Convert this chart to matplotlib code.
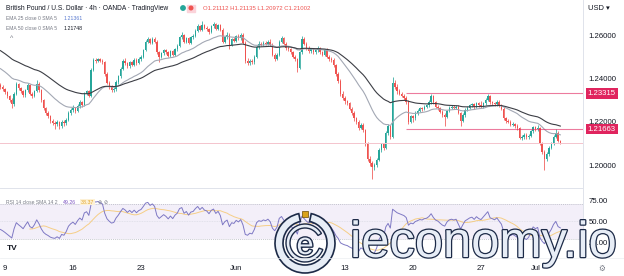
import numpy as np
import pandas as pd
import matplotlib
matplotlib.use("Agg")
import matplotlib.pyplot as plt
from matplotlib.patches import Wedge, Rectangle, Circle
import matplotlib.patheffects as pe

# GBP/USD 4h bars, one row per trading day (6 bars); first row = last 2 bars of May 6
close_rows = [
    [1.2362, 1.2350],
    [1.2335, 1.2318, 1.2300, 1.2280, 1.2330, 1.2372],   # May 9
    [1.2355, 1.2340, 1.2322, 1.2345, 1.2368, 1.2330],
    [1.2318, 1.2340, 1.2375, 1.2345, 1.2300, 1.2262],
    [1.2240, 1.2225, 1.2205, 1.2195, 1.2190, 1.2198],
    [1.2180, 1.2200, 1.2192, 1.2210, 1.2240, 1.2255],
    [1.2265, 1.2250, 1.2272, 1.2290, 1.2278, 1.2330],   # May 16
    [1.2340, 1.2320, 1.2440, 1.2485, 1.2480, 1.2488],
    [1.2482, 1.2475, 1.2420, 1.2380, 1.2360, 1.2345],
    [1.2350, 1.2385, 1.2410, 1.2445, 1.2480, 1.2470],
    [1.2455, 1.2475, 1.2462, 1.2485, 1.2470, 1.2490],
    [1.2500, 1.2530, 1.2570, 1.2580, 1.2565, 1.2582],   # May 23
    [1.2570, 1.2520, 1.2500, 1.2515, 1.2530, 1.2520],
    [1.2505, 1.2525, 1.2510, 1.2535, 1.2550, 1.2590],
    [1.2600, 1.2570, 1.2585, 1.2565, 1.2590, 1.2595],
    [1.2620, 1.2640, 1.2625, 1.2645, 1.2632, 1.2628],
    [1.2615, 1.2640, 1.2650, 1.2630, 1.2645, 1.2625],   # May 30
    [1.2570, 1.2590, 1.2600, 1.2555, 1.2580, 1.2575],
    [1.2595, 1.2585, 1.2600, 1.2565, 1.2480, 1.2470],
    [1.2482, 1.2475, 1.2500, 1.2545, 1.2560, 1.2555],
    [1.2565, 1.2560, 1.2570, 1.2555, 1.2510, 1.2490],
    [1.2510, 1.2570, 1.2585, 1.2560, 1.2540, 1.2535],   # Jun 6
    [1.2520, 1.2500, 1.2490, 1.2450, 1.2520, 1.2580],
    [1.2560, 1.2540, 1.2525, 1.2535, 1.2520, 1.2530],
    [1.2540, 1.2520, 1.2510, 1.2530, 1.2500, 1.2490],
    [1.2485, 1.2460, 1.2420, 1.2390, 1.2330, 1.2310],
    [1.2295, 1.2285, 1.2260, 1.2240, 1.2215, 1.2200],   # Jun 13
    [1.2170, 1.2185, 1.2160, 1.2100, 1.2030, 1.2010],
    [1.1990, 1.2000, 1.2025, 1.2070, 1.2095, 1.2080],
    [1.2150, 1.2180, 1.2130, 1.2380, 1.2360, 1.2340],
    [1.2330, 1.2320, 1.2310, 1.2290, 1.2200, 1.2225],
    [1.2215, 1.2240, 1.2250, 1.2262, 1.2258, 1.2270],   # Jun 20
    [1.2275, 1.2290, 1.2318, 1.2290, 1.2270, 1.2262],
    [1.2245, 1.2230, 1.2222, 1.2250, 1.2265, 1.2270],
    [1.2265, 1.2270, 1.2240, 1.2205, 1.2230, 1.2255],
    [1.2265, 1.2275, 1.2280, 1.2268, 1.2285, 1.2275],
    [1.2270, 1.2285, 1.2300, 1.2318, 1.2290, 1.2285],   # Jun 27
    [1.2280, 1.2290, 1.2275, 1.2260, 1.2215, 1.2205],
    [1.2200, 1.2185, 1.2190, 1.2180, 1.2170, 1.2125],
    [1.2130, 1.2140, 1.2128, 1.2135, 1.2155, 1.2175],
    [1.2165, 1.2170, 1.2100, 1.2060, 1.2030, 1.2050],
    [1.2080, 1.2100, 1.2130, 1.2150, 1.21112, 1.21002],  # Jul 4
]
high_rows = [
    [1.2378, 1.2368],
    [1.2358, 1.2342, 1.2325, 1.2308, 1.2338, 1.2385],
    [1.2380, 1.2362, 1.2348, 1.2352, 1.2378, 1.2374],
    [1.2336, 1.2348, 1.2392, 1.2382, 1.2352, 1.2306],
    [1.2270, 1.2248, 1.2232, 1.2212, 1.2202, 1.2206],
    [1.2205, 1.2208, 1.2210, 1.2218, 1.2250, 1.2264],
    [1.2275, 1.2270, 1.2280, 1.2298, 1.2296, 1.2338],
    [1.2348, 1.2345, 1.2448, 1.2495, 1.2492, 1.2496],
    [1.2496, 1.2490, 1.2482, 1.2428, 1.2388, 1.2368],
    [1.2360, 1.2392, 1.2418, 1.2452, 1.2490, 1.2492],
    [1.2478, 1.2482, 1.2482, 1.2492, 1.2492, 1.2498],
    [1.2508, 1.2538, 1.2578, 1.2592, 1.2588, 1.2590],
    [1.2590, 1.2576, 1.2528, 1.2522, 1.2538, 1.2536],
    [1.2528, 1.2532, 1.2530, 1.2542, 1.2558, 1.2598],
    [1.2612, 1.2606, 1.2592, 1.2590, 1.2598, 1.2605],
    [1.2628, 1.2652, 1.2648, 1.2666, 1.2652, 1.2640],
    [1.2635, 1.2648, 1.2660, 1.2656, 1.2652, 1.2650],
    [1.2632, 1.2598, 1.2612, 1.2608, 1.2588, 1.2590],
    [1.2602, 1.2604, 1.2608, 1.2610, 1.2572, 1.2492],
    [1.2490, 1.2490, 1.2508, 1.2552, 1.2572, 1.2568],
    [1.2575, 1.2572, 1.2578, 1.2580, 1.2562, 1.2518],
    [1.2518, 1.2578, 1.2598, 1.2592, 1.2568, 1.2548],
    [1.2542, 1.2528, 1.2508, 1.2496, 1.2528, 1.2598],
    [1.2592, 1.2568, 1.2548, 1.2542, 1.2542, 1.2538],
    [1.2550, 1.2546, 1.2528, 1.2538, 1.2540, 1.2508],
    [1.2498, 1.2492, 1.2466, 1.2428, 1.2396, 1.2340],
    [1.2318, 1.2302, 1.2292, 1.2268, 1.2248, 1.2222],
    [1.2206, 1.2192, 1.2194, 1.2166, 1.2108, 1.2040],
    [1.2018, 1.2010, 1.2032, 1.2078, 1.2102, 1.2100],
    [1.2158, 1.2188, 1.2186, 1.2406, 1.2392, 1.2372],
    [1.2350, 1.2338, 1.2328, 1.2318, 1.2298, 1.2232],
    [1.2232, 1.2248, 1.2258, 1.2270, 1.2268, 1.2278],
    [1.2282, 1.2298, 1.2328, 1.2324, 1.2296, 1.2278],
    [1.2270, 1.2252, 1.2238, 1.2256, 1.2272, 1.2278],
    [1.2278, 1.2276, 1.2276, 1.2246, 1.2238, 1.2262],
    [1.2272, 1.2282, 1.2288, 1.2286, 1.2292, 1.2292],
    [1.2296, 1.2292, 1.2308, 1.2330, 1.2324, 1.2296],
    [1.2292, 1.2298, 1.2298, 1.2282, 1.2266, 1.2222],
    [1.2212, 1.2206, 1.2198, 1.2196, 1.2188, 1.2176],
    [1.2138, 1.2148, 1.2146, 1.2142, 1.2162, 1.2182],
    [1.2182, 1.2186, 1.2176, 1.2108, 1.2068, 1.2058],
    [1.2088, 1.2108, 1.2138, 1.2165, 1.2158, 1.21135],
]
low_rows = [
    [1.2352, 1.2340],
    [1.2326, 1.2308, 1.2290, 1.2262, 1.2272, 1.2322],
    [1.2348, 1.2332, 1.2312, 1.2315, 1.2338, 1.2322],
    [1.2310, 1.2312, 1.2335, 1.2338, 1.2292, 1.2255],
    [1.2232, 1.2215, 1.2196, 1.2185, 1.2168, 1.2180],
    [1.2165, 1.2172, 1.2182, 1.2185, 1.2202, 1.2232],
    [1.2245, 1.2242, 1.2244, 1.2265, 1.2270, 1.2272],
    [1.2322, 1.2312, 1.2315, 1.2432, 1.2472, 1.2474],
    [1.2474, 1.2468, 1.2412, 1.2372, 1.2350, 1.2335],
    [1.2338, 1.2342, 1.2376, 1.2402, 1.2438, 1.2462],
    [1.2448, 1.2450, 1.2455, 1.2455, 1.2462, 1.2465],
    [1.2482, 1.2495, 1.2525, 1.2562, 1.2558, 1.2560],
    [1.2562, 1.2512, 1.2475, 1.2492, 1.2508, 1.2512],
    [1.2498, 1.2500, 1.2502, 1.2505, 1.2528, 1.2545],
    [1.2582, 1.2565, 1.2562, 1.2558, 1.2560, 1.2582],
    [1.2590, 1.2612, 1.2618, 1.2620, 1.2626, 1.2620],
    [1.2606, 1.2610, 1.2632, 1.2622, 1.2625, 1.2618],
    [1.2562, 1.2565, 1.2582, 1.2535, 1.2548, 1.2566],
    [1.2568, 1.2578, 1.2578, 1.2560, 1.2472, 1.2460],
    [1.2462, 1.2468, 1.2468, 1.2494, 1.2538, 1.2548],
    [1.2548, 1.2552, 1.2552, 1.2548, 1.2502, 1.2482],
    [1.2484, 1.2505, 1.2562, 1.2552, 1.2532, 1.2526],
    [1.2512, 1.2492, 1.2480, 1.2428, 1.2442, 1.2512],
    [1.2552, 1.2532, 1.2515, 1.2518, 1.2512, 1.2512],
    [1.2522, 1.2512, 1.2502, 1.2502, 1.2492, 1.2480],
    [1.2476, 1.2452, 1.2412, 1.2380, 1.2320, 1.2300],
    [1.2282, 1.2275, 1.2252, 1.2230, 1.2205, 1.2190],
    [1.2162, 1.2165, 1.2152, 1.2090, 1.2018, 1.1995],
    [1.1936, 1.1978, 1.1992, 1.2018, 1.2060, 1.2070],
    [1.2074, 1.2140, 1.2122, 1.2124, 1.2350, 1.2330],
    [1.2322, 1.2312, 1.2300, 1.2282, 1.2190, 1.2195],
    [1.2198, 1.2210, 1.2232, 1.2244, 1.2250, 1.2252],
    [1.2262, 1.2268, 1.2284, 1.2284, 1.2262, 1.2254],
    [1.2238, 1.2222, 1.2178, 1.2215, 1.2244, 1.2258],
    [1.2258, 1.2258, 1.2234, 1.2180, 1.2198, 1.2222],
    [1.2248, 1.2258, 1.2268, 1.2260, 1.2262, 1.2268],
    [1.2262, 1.2264, 1.2278, 1.2294, 1.2284, 1.2278],
    [1.2274, 1.2274, 1.2268, 1.2252, 1.2208, 1.2196],
    [1.2192, 1.2178, 1.2178, 1.2172, 1.2162, 1.2118],
    [1.2114, 1.2122, 1.2120, 1.2120, 1.2128, 1.2150],
    [1.2158, 1.2158, 1.2092, 1.2052, 1.1978, 1.2020],
    [1.2042, 1.2072, 1.2094, 1.2124, 1.2105, 1.20972],
]
first_open = 1.2370

# indicator starting values read at the left edge
ema25_seed = 1.2452
ema50_seed = 1.2535
rsi_gain_seed = 0.0010
rsi_loss_seed = 0.0014

# values printed in the legends
ema25_label = "1.21361"
ema50_label = "1.21748"
rsi_label = "49.26"
ohlc_label = "O1.21112 H1.21135 L1.20972 C1.21002"

day_bars = [0, 30, 60, 102, 150, 180, 210, 234]
day_labels = ["9", "16", "23", "Jun", "13", "20", "27", "Jul"]
price_ticks = [1.20, 1.22, 1.24, 1.26]
rsi_ticks = [25, 50, 75]

level_hi = 1.23315
level_lo = 1.21663
level_start = 177
last_close = 1.21002

closes = np.array(sum(close_rows, []))
highs = np.array(sum(high_rows, []))
lows = np.array(sum(low_rows, []))
opens = np.concatenate([[first_open], closes[:-1]])
x = np.arange(len(closes)) - 2

ema25 = pd.Series(np.r_[ema25_seed, closes]).ewm(span=25, adjust=False).mean().values[1:]
ema50 = pd.Series(np.r_[ema50_seed, closes]).ewm(span=50, adjust=False).mean().values[1:]

delta = closes - opens
gain = pd.Series(np.r_[rsi_gain_seed, np.clip(delta, 0, None)]).ewm(alpha=1/14, adjust=False).mean().values[1:]
loss = pd.Series(np.r_[rsi_loss_seed, np.clip(-delta, 0, None)]).ewm(alpha=1/14, adjust=False).mean().values[1:]
rsi = 100 - 100 / (1 + gain / loss)
rsi_sma = pd.Series(rsi).rolling(14).mean().values

UP = "#26a69a"
DN = "#ef5350"
TXT = "#131722"
GREY = "#787b86"
W, H = 624, 276

plt.rcParams["font.family"] = ["Liberation Sans", "DejaVu Sans"]
fig = plt.figure(figsize=(W / 100, H / 100), dpi=100)
ax = fig.add_axes([0, (H - 188) / H, 583 / W, 188 / H])
ax_rsi = fig.add_axes([0, (H - 257) / H, 583 / W, 69 / H])
xlim = (-2.2, 255)

# candles
cols = np.where(closes >= opens, UP, DN)
ax.vlines(x, lows, highs, colors=cols, lw=0.55)
body_lo = np.minimum(opens, closes)
body_h = np.maximum(np.abs(closes - opens), 0.00012)
ax.bar(x, body_h, bottom=body_lo, width=0.62, color=cols, lw=0)

ax.plot(x, ema25, color="#a3a8b4", lw=0.8)
ax.plot(x, ema50, color="#3c3e45", lw=0.8)

ax.axhline(last_close, color="#f4c4cd", lw=0.7)
ax.hlines([level_hi, level_lo], level_start, xlim[1], color="#e0245e", lw=0.8, alpha=0.6)

ax.set_xlim(*xlim)
ax.set_ylim(1.1894, 1.2762)
ax.yaxis.tick_right()
ax.set_yticks(price_ticks)
ax.set_yticklabels([f"{v:.5f}" for v in price_ticks])
ax.tick_params(axis="y", length=0, pad=4, labelsize=5.6, labelcolor=TXT)
ax.set_xticks([])
for s in ax.spines.values():
    s.set_visible(False)

tr = ax.get_yaxis_transform()
for lv in [level_hi, level_lo]:
    ax.text(1.008, lv, f"{lv:.5f}", transform=tr, ha="left", va="center", fontsize=5.6,
            color="white", clip_on=False, zorder=5,
            bbox=dict(boxstyle="square,pad=0.25", fc="#e0245e", ec="none"))

# RSI pane
ax_rsi.axhspan(30, 70, color="#7e57c2", alpha=0.09, lw=0)
for lv in [70, 30]:
    ax_rsi.axhline(lv, color="#b2b5be", lw=0.5, ls=(0, (1.5, 1.5)))
ax_rsi.axhline(50, color="#d1d4dc", lw=0.4, ls=(0, (1.5, 1.5)))
ax_rsi.plot(x, rsi_sma, color="#f6c66a", lw=0.7, alpha=0.8)
ax_rsi.plot(x, rsi, color="#7e78c4", lw=0.7)
ax_rsi.set_xlim(*xlim)
ax_rsi.set_ylim(8.3, 89.3)
ax_rsi.yaxis.tick_right()
ax_rsi.set_yticks(rsi_ticks)
ax_rsi.set_yticklabels([f"{v:.2f}" for v in rsi_ticks])
ax_rsi.set_xticks(day_bars)
ax_rsi.set_xticklabels(day_labels)
ax_rsi.tick_params(length=0, labelsize=5.6, labelcolor=TXT)
ax_rsi.tick_params(axis="y", pad=4)
ax_rsi.tick_params(axis="x", pad=6)
for s in ax_rsi.spines.values():
    s.set_visible(False)

# overlay in pixel coordinates: separators, legend texts, watermark
ov = fig.add_axes([0, 0, 1, 1], zorder=10)
ov.set_xlim(0, W)
ov.set_ylim(H, 0)
ov.axis("off")
ov.plot([583, 583], [0, 258], color="#e0e3eb", lw=0.7)
ov.plot([0, 583], [188, 188], color="#e0e3eb", lw=0.7)
ov.plot([0, W], [258, 258], color="#eceef2", lw=0.5)

fs = 3.6
ov.text(6, 8, "British Pound / U.S. Dollar · 4h · OANDA · TradingView", fontsize=4.8,
        color=TXT, va="center")
ov.add_patch(Circle((183, 8), 2.2, color=UP))
ov.add_patch(Rectangle((187, 4.5), 8, 7, color="#fbd3da"))
ov.add_patch(Circle((191, 8), 1.8, color=DN))
ov.text(203, 8, ohlc_label, fontsize=4.3, color=DN, va="center")
ov.text(6, 18, "EMA 25 close 0 SMA 5", fontsize=fs, color=GREY, va="center")
ov.text(64, 18, ema25_label, fontsize=fs + 0.2, color="#5b7bd0", va="center")
ov.text(6, 28, "EMA 50 close 0 SMA 5", fontsize=fs, color=GREY, va="center")
ov.text(64, 28, ema50_label, fontsize=fs + 0.2, color=TXT, va="center")
ov.text(12, 39, "^", fontsize=5, color=GREY, ha="center", va="center")
ov.text(588, 9, "USD ▾", fontsize=5.4, color=TXT, va="center")

ov.text(6, 202, "RSI 14 close SMA 14 2", fontsize=fs, color=GREY, va="center")
ov.text(63, 202, rsi_label, fontsize=fs + 0.2, color="#7e57c2", va="center")
ov.text(81, 202, f"{rsi_sma[-1]:.2f}", fontsize=fs + 0.2, color="#e2a52c", va="center",
        bbox=dict(boxstyle="square,pad=0.1", fc="#fdf1d6", ec="none"))
ov.text(98, 202, "⊘ ⊘", fontsize=fs, color=GREY, va="center", family=["DejaVu Sans"])
ov.text(12, 249, "TV", fontsize=6, color=TXT, weight="bold", ha="center", va="center")
ov.text(602, 268, "⚙", fontsize=5.5, color=GREY, ha="center", va="center", family=["DejaVu Sans"])

# ieconomy.io watermark
navy = "#1c2a47"
fill = "#e7edf6"
ov.add_patch(Wedge((305, 243), 30, 282, 618, width=8, fc=fill, ec=navy, lw=1.2))
ov.add_patch(Wedge((305, 243), 19, 20, 330, width=4, fc=fill, ec=navy, lw=1.0))
ov.add_patch(Rectangle((302, 211), 6, 6, fc="#d9a21b", ec="#6b4a00", lw=0.5))
ov.text(305, 246, "e", fontsize=22, color=fill, ha="center", va="center",
        path_effects=[pe.withStroke(linewidth=2.0, foreground=navy)])
ov.text(350, 257, "ieconomy.io", fontsize=36.5, color=fill, ha="left", va="baseline",
        path_effects=[pe.withStroke(linewidth=1.8, foreground=navy)])

fig.savefig("out.png", dpi=100, facecolor="white")
